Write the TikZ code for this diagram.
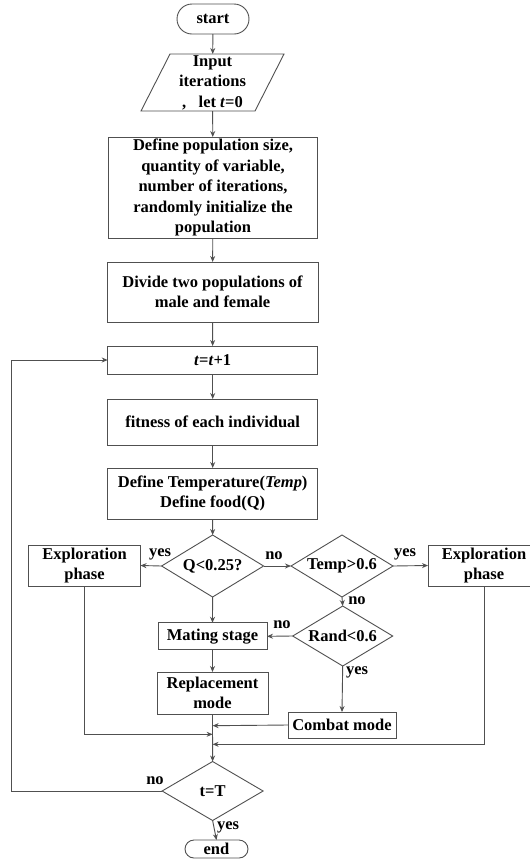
\documentclass[tikz,border=0pt]{standalone}
\usepackage{fontspec}
\setmainfont{Liberation Serif}
\usetikzlibrary{shapes.geometric,arrows.meta}
\definecolor{edge}{HTML}{505050}
\begin{document}
\begin{tikzpicture}[x=1pt,y=-1pt,
  font=\fontsize{16.5}{20.5}\selectfont\bfseries,
  every node/.style={inner sep=0pt, outer sep=0pt},
  box/.style={draw=edge, line width=0.9pt, align=center},
  term/.style={box, rounded corners=9pt},
  dec/.style={diamond, draw=edge, line width=0.9pt, align=center, aspect=1.65},
  lbl/.style={font=\fontsize{16.5}{20}\selectfont\bfseries},
  arr/.style={draw=edge, line width=0.9pt, -{Stealth[length=6pt,width=5pt]}},
  ln/.style={draw=edge, line width=0.9pt}]
\useasboundingbox (0,0) rectangle (530,860);

\node[term, minimum width=72pt, minimum height=30pt, rounded corners=15pt] (start) at (213,19) {start};
\node[align=center, minimum width=114pt, minimum height=57pt] (inp) at (212.5,82.5)
  {Input\\iterations\\,~~~let \textit{t}=0};
\draw[ln] ([xshift=14.5pt]inp.north west) -- ([xshift=14.5pt]inp.north east)
  -- ([xshift=-14.5pt]inp.south east) -- ([xshift=-14.5pt]inp.south west) -- cycle;
\node[box, minimum width=209pt, minimum height=101pt] (def) at (213,187.5)
  {Define population size,\\quantity of variable,\\number of iterations,\\randomly initialize the\\population};
\node[box, minimum width=211pt, minimum height=60pt] (div) at (212.5,292)
  {Divide two populations of\\male and female};
\node[box, minimum width=210pt, minimum height=28pt] (inc) at (212.7,360) {\textit{t}=\textit{t}+1};
\node[box, minimum width=210pt, minimum height=46pt] (fit) at (212.7,422) {fitness of each individual};
\node[box, minimum width=210pt, minimum height=51pt] (tmp) at (212.7,493.5)
  {Define Temperature(\textit{Temp})\\Define food(Q)};
\node[dec, minimum width=102pt, minimum height=62pt] (q) at (212.6,566) {Q<0.25?};
\node[dec, minimum width=102pt, minimum height=62pt] (tq) at (342,566) {Temp>0.6};
\node[box, minimum width=112pt, minimum height=41pt] (exl) at (84.5,565.5) {Exploration\\phase};
\node[box, minimum width=112pt, minimum height=41pt] (exr) at (484,565.5) {Exploration\\phase};
\node[dec, minimum width=100pt, minimum height=60pt] (rd) at (342.7,636) {Rand<0.6};
\node[box, minimum width=109pt, minimum height=27pt] (mate) at (212.5,636.3) {Mating stage};
\node[box, minimum width=111pt, minimum height=42pt] (rep) at (212.5,693) {Replacement\\mode};
\node[box, minimum width=108pt, minimum height=26pt] (comb) at (342,725) {Combat mode};
\node[dec, minimum width=101pt, minimum height=59pt] (tt) at (212.6,791) {t=T};
\node[term, minimum width=63pt, minimum height=18pt] (end) at (216.5,849) {end};

\coordinate (j1) at (212.6,725.7);
\coordinate (j2) at (212.6,734.3);
\coordinate (j3) at (212.6,744.3);
\coordinate (lp) at (11,791);
\coordinate (lt) at (11,360);

\draw[arr] (start) -- (inp);
\draw[arr] (inp) -- (def);
\draw[arr] (def) -- (div);
\draw[arr] (div) -- (inc);
\draw[arr] (inc) -- (fit);
\draw[arr] (fit) -- (tmp);
\draw[arr] (tmp) -- (q);
\draw[arr] (q.west) -- (exl.east);
\draw[arr] (q.east) -- (tq.west);
\draw[arr] (tq.east) -- (exr.west);
\draw[arr] (tq.south) -- (rd.north);
\draw[arr] (rd.west) -- (mate.east);
\draw[arr] (q.south) -- (mate.north);
\draw[arr] (mate) -- (rep);
\draw[arr] (rd.south) -- (comb.north);
\draw[arr] (rep.south) -- (tt.north);
\draw[arr] (comb.west) -- (j1);
\draw[arr] (exl.south) |- (j2);
\draw[arr] (exr.south) |- (j3);
\draw[arr] (tt.west) -- (lp) -- (lt) -- (inc.west);
\draw[arr] (tt.south) -- (end.north);

\node[lbl] (l1) at (160,554) {yes};
\node[lbl] (l2) at (274,556) {no};
\node[lbl] (l3) at (405,554) {yes};
\node[lbl] (l4) at (357,601) {no};
\node[lbl] (l5) at (282,625) {no};
\node[lbl] (l6) at (357,672) {yes};
\node[lbl] (l7) at (155,781) {no};
\node[lbl] (l8) at (228,827) {yes};
\end{tikzpicture}
\end{document}
